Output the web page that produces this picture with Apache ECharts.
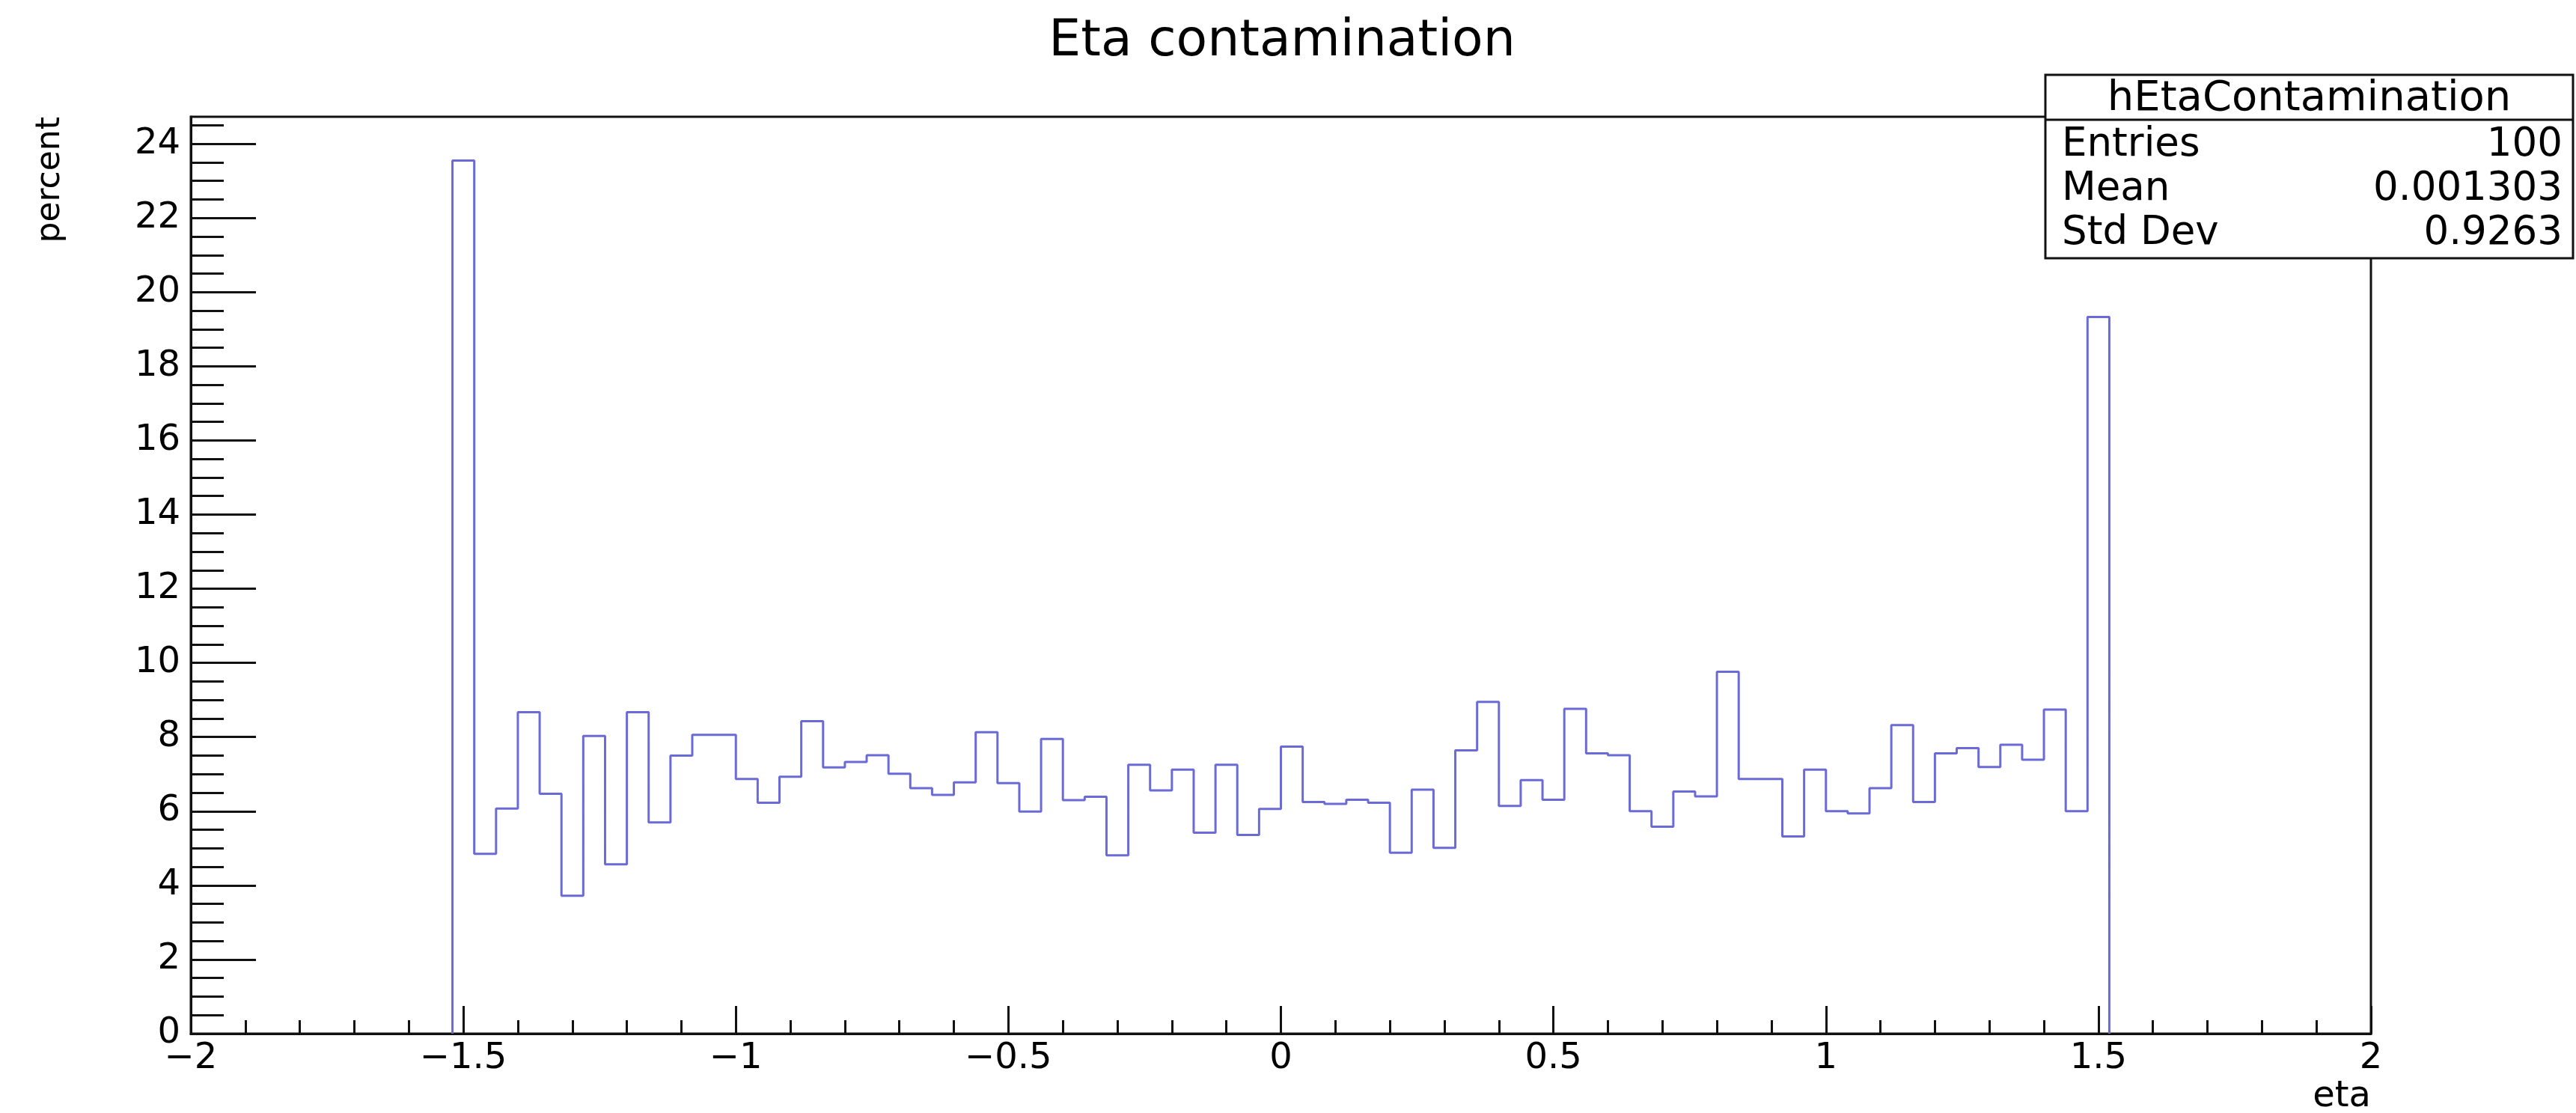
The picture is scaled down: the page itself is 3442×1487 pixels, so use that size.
<!DOCTYPE html>
<html>
<head>
<meta charset="utf-8">
<script src="https://cdn.jsdelivr.net/npm/echarts@6/dist/echarts.min.js"></script>
<style>
html,body{margin:0;padding:0;background:#fff;}
#chart{width:3442px;height:1487px;}
</style>
</head>
<body>
<div id="chart"></div>
<script>
// ---- data ----
const titleText = 'Eta contamination';
const xAxisTitle = 'eta';
const yAxisTitle = 'percent';
const histName = 'hEtaContamination';
const statsLabels = ['Entries', 'Mean', 'Std Dev'];
const statsValues = ['100', '0.001303', '0.9263'];

const xRange = [-2, 2];
const xTickInterval = 0.5;
const binWidth = 0.04;
const firstBinLow = -1.52;          // lower edge of the first non-empty bin
const binValues = [
  23.55, 4.85, 6.07, 8.67, 6.47, 3.72, 8.03, 4.57, 8.67, 5.70,
  7.50, 8.06, 8.06, 6.87, 6.23, 6.93, 8.43, 7.18, 7.33, 7.51,
  7.01, 6.62, 6.44, 6.78, 8.13, 6.76, 5.99, 7.95, 6.30, 6.39,
  4.81, 7.25, 6.56, 7.12, 5.42, 7.25, 5.36, 6.06, 7.74, 6.25,
  6.20, 6.31, 6.23, 4.88, 6.58, 5.01, 7.64, 8.95, 6.14, 6.84,
  6.31, 8.76, 7.56, 7.51, 6.00, 5.58, 6.53, 6.40, 9.76, 6.87,
  6.87, 5.32, 7.12, 6.00, 5.94, 6.62, 8.32, 6.25, 7.56, 7.70,
  7.19, 7.79, 7.39, 8.74, 6.00, 19.33
];
const yMax = 24.73;
const yMajorTicks = [0, 2, 4, 6, 8, 10, 12, 14, 16, 18, 20, 22, 24];

// ---- derived ----
const r4 = v => Math.round(v * 10000) / 10000;
const histPts = [[firstBinLow, 0]];
binValues.forEach((v, i) => {
  const lo = r4(firstBinLow + i * binWidth), hi = r4(lo + binWidth);
  histPts.push([lo, v], [hi, v]);
});
histPts.push([histPts[histPts.length - 1][0], 0]);

const yMinorTicks = [];
yMajorTicks.forEach(t => { [0.5, 1, 1.5].forEach(d => { if (t + d < yMax) yMinorTicks.push(t + d); }); });

const FONT = 'DejaVu Sans';
const INK = '#111';
const G = {left: 255, top: 156, width: 2913, height: 1225};

const chart = echarts.init(document.getElementById('chart'), null, {renderer: 'canvas'});

const box = {x: 2733, y: 100, w: 705, h: 245, head: 60};

chart.setOption({
  animation: false,
  backgroundColor: '#fff',
  grid: {left: G.left, top: G.top, width: G.width, height: G.height, show: true,
         borderColor: INK, borderWidth: 3, backgroundColor: 'transparent', containLabel: false},
  xAxis: {
    type: 'value', min: xRange[0], max: xRange[1], interval: xTickInterval,
    axisLine: {show: true, onZero: false, lineStyle: {color: INK, width: 3}},
    axisTick: {show: true, inside: true, length: 37, lineStyle: {color: INK, width: 3}},
    minorTick: {show: true, splitNumber: 5, length: 18, lineStyle: {color: INK, width: 3}},
    splitLine: {show: false}, minorSplitLine: {show: false},
    axisLabel: {color: '#000', fontFamily: FONT, fontSize: 48, margin: 10,
                formatter: v => String(v).replace('-', '\u2212')}
  },
  yAxis: [{
    type: 'value', min: 0, max: yMax, position: 'left',
    axisLine: {show: true, onZero: false, lineStyle: {color: INK, width: 3}},
    axisTick: {show: true, inside: true, length: 87, customValues: yMajorTicks, lineStyle: {color: INK, width: 3}},
    splitLine: {show: false},
    axisLabel: {color: '#000', fontFamily: FONT, fontSize: 48, margin: 14, customValues: yMajorTicks}
  }, {
    type: 'value', min: 0, max: yMax, position: 'left',
    axisLine: {show: false, onZero: false},
    axisTick: {show: true, inside: true, length: 44, customValues: yMinorTicks, lineStyle: {color: INK, width: 3}},
    splitLine: {show: false},
    axisLabel: {show: false}
  }],
  series: [{
    type: 'line', data: histPts, showSymbol: false, symbol: 'none',
    lineStyle: {color: '#6b6bd8', width: 3}, z: 3
  }],
  graphic: [
    {type: 'text', x: 1713, y: 56, z: 10,
     style: {text: titleText, fontFamily: FONT, fontSize: 68, fill: '#000', textAlign: 'center', textVerticalAlign: 'middle'}},
    {type: 'text', x: 68, y: 156, rotation: Math.PI / 2, z: 10,
     style: {text: yAxisTitle, fontFamily: FONT, fontSize: 44, fill: '#000', textAlign: 'right', textVerticalAlign: 'middle'}},
    {type: 'text', x: 3168, y: 1466, z: 10,
     style: {text: xAxisTitle, fontFamily: FONT, fontSize: 48, fill: '#000', textAlign: 'right', textVerticalAlign: 'middle'}},
    {type: 'rect', z: 20, shape: {x: box.x, y: box.y, width: box.w, height: box.h},
     style: {fill: '#fff', stroke: INK, lineWidth: 3}},
    {type: 'line', z: 21, shape: {x1: box.x, y1: box.y + box.head, x2: box.x + box.w, y2: box.y + box.head},
     style: {stroke: INK, lineWidth: 3}},
    {type: 'text', z: 22, x: box.x + box.w / 2, y: box.y + 32,
     style: {text: histName, fontFamily: FONT, fontSize: 56, fill: '#000', textAlign: 'center', textVerticalAlign: 'middle'}},
    ...statsLabels.map((l, i) => ({type: 'text', z: 22, x: box.x + 22, y: 194 + i * 59,
     style: {text: l, fontFamily: FONT, fontSize: 53, fill: '#000', textAlign: 'left', textVerticalAlign: 'middle'}})),
    ...statsValues.map((v, i) => ({type: 'text', z: 22, x: box.x + box.w - 14, y: 194 + i * 59,
     style: {text: v, fontFamily: FONT, fontSize: 53, fill: '#000', textAlign: 'right', textVerticalAlign: 'middle'}}))
  ]
});
</script>
</body>
</html>
